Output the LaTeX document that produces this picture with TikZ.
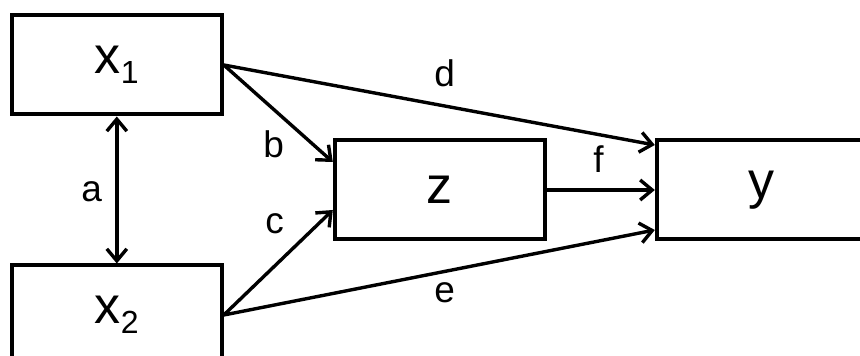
\documentclass[tikz,border=0pt]{standalone}
\usepackage{fontspec}
\setmainfont{Liberation Sans}
\usetikzlibrary{arrows.meta, positioning, calc}
\newcommand{\subidx}[1]{\raisebox{-5pt}{\fontsize{16pt}{16pt}\selectfont #1}}
\tikzset{
  varbox/.style={draw=black, line width=2pt, minimum width=105pt,
    minimum height=49.5pt, inner sep=0pt, font=\fontsize{26pt}{30pt}\selectfont},
  link/.style={-{Straight Barb[length=6pt, width=10pt]}, line width=1.7pt},
  twoway/.style={{Straight Barb[length=6pt, width=10pt]}-{Straight Barb[length=6pt, width=10pt]}, line width=1.7pt},
  coef/.style={inner sep=0pt, anchor=base west, font=\fontsize{18.5pt}{20pt}\selectfont},
}
\begin{document}
\begin{tikzpicture}[node distance=73.5pt and 54pt]
    \useasboundingbox (0pt,0pt) rectangle (430pt,-178pt);
    \node[varbox] (x1) at (58.4pt,-32.5pt) {x\subidx{1}};
    \node[varbox, below=of x1] (x2) {x\subidx{2}};
    \node[varbox, right=54.5pt of $(x1.east)!0.5!(x2.east)$] (z) {z};
    \node[varbox, right=of z] (y) {y};
    \draw[twoway] (x1.south) -- (x2.north);
    \draw[link] (x1.east) -- ([yshift=14pt]z.west); \draw[link] (x2.east) -- ([yshift=-10pt]z.west);
    \draw[link] (x1.east) -- ([yshift=22.5pt]y.west); \draw[link] (x2.east) -- ([yshift=-20pt]y.west);
    \draw[link] (z.east) -- (y.west);
    \node[coef] (la) at (40.5pt,-101pt) {a};
    \node[coef] (lb) at (131.5pt,-79pt) {b};
    \node[coef] (lc) at (132.5pt,-117pt) {c};
    \node[coef] (ld) at (217pt,-43.5pt) {d};
    \node[coef] (le) at (217pt,-151.5pt) {e};
    \node[coef] (lf) at (296.5pt,-86.5pt) {f};
  \end{tikzpicture}
\end{document}
